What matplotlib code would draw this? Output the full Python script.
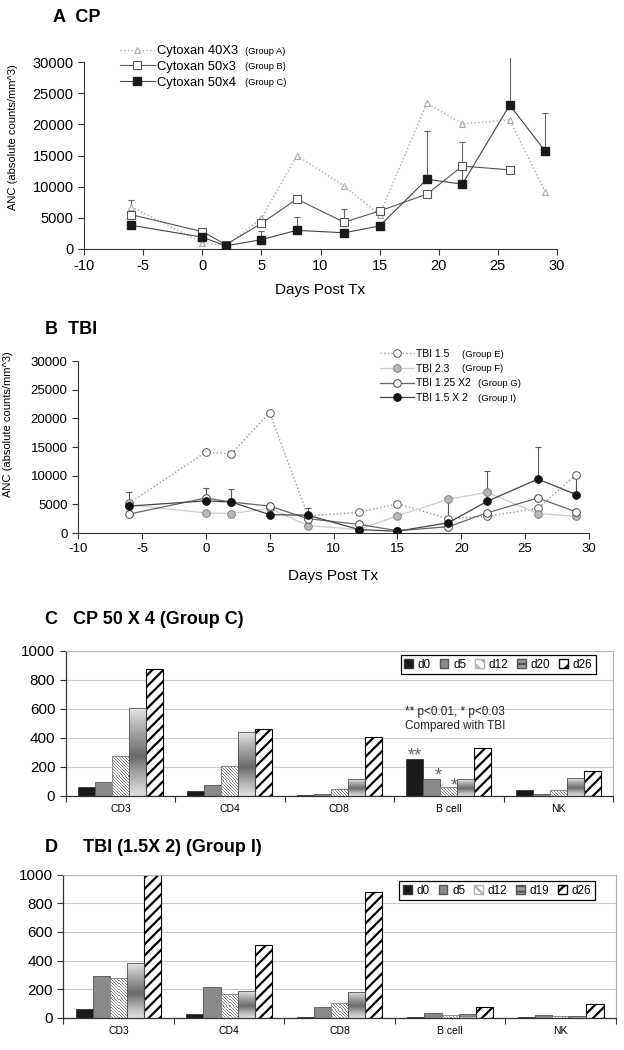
import numpy as np
import matplotlib.pyplot as plt
from matplotlib.patches import Patch
from matplotlib.colors import LinearSegmentedColormap, ListedColormap

plt.rcParams['font.family'] = ['Liberation Sans', 'DejaVu Sans']
plt.rcParams['axes.unicode_minus'] = False
plt.rcParams['hatch.linewidth'] = 1.6

# ---- panel A: ANC after cytoxan ----
days_a = [-6, 0, 2, 5, 8, 12, 15, 19, 22, 26, 29]
days_a_b = [-6, 0, 2, 5, 8, 12, 15, 19, 22, 26]
cy40x3 = [6800, 1000, 500, 4900, 15000, 10100, 5500, 23400, 20100, 20700, 9200]
cy50x3 = [5500, 2800, 700, 4100, 8000, 4300, 6100, 8800, 13300, 12700]
cy50x3_err = [2350, 0, 0, 0, 0, 2100, 0, 0, 0, 0]
cy50x4 = [3800, 1900, 500, 1500, 3000, 2600, 3700, 11200, 10400, 23100, 15700]
cy50x4_err = [0, 0, 0, 1400, 2100, 0, 0, 7700, 6800, 9000, 6100]
labels_a = ['Cytoxan 40X3', 'Cytoxan 50x3', 'Cytoxan 50x4']
groups_a = ['(Group A)', '(Group B)', '(Group C)']

# ---- panel B: ANC after TBI ----
days_b = [-6, 0, 2, 5, 8, 12, 15, 19, 22, 26, 29]
tbi15 = [5200, 14100, 13800, 21000, 3000, 3600, 5100, 2500, 2900, 4300, 10200]
tbi23 = [4900, 3500, 3400, 4300, 1300, 600, 3000, 5900, 7100, 3400, 2900]
tbi125x2 = [3300, 6100, 5400, 4700, 2500, 1500, 400, 1100, 3500, 6100, 3700]
tbi15x2 = [4700, 5600, 5400, 3200, 3100, 600, 300, 1800, 5500, 9400, 6700]
tbi15x2_err = [2500, 2200, 2200, 0, 1200, 0, 0, 4000, 5300, 5600, 3400]
labels_b = ['TBI 1.5', 'TBI 2.3', 'TBI 1.25 X2', 'TBI 1.5 X 2']
groups_b = ['(Group E)', '(Group F)', '(Group G)', '(Group I)']

# ---- panels C / D: lymphocyte subsets ----
cells = ['CD3', 'CD4', 'CD8', 'B cell', 'NK']
days_c = ['d0', 'd5', 'd12', 'd20', 'd26']
c_d0 = [60, 32, 5, 253, 41]
c_d5 = [97, 71, 9, 113, 9]
c_d12 = [271, 202, 48, 60, 39]
c_d20 = [605, 437, 113, 113, 122]
c_d26 = [871, 457, 407, 326, 170]
days_d = ['d0', 'd5', 'd12', 'd19', 'd26']
d_d0 = [63, 28, 2, 5, 5]
d_d5 = [291, 214, 75, 30, 19]
d_d12 = [275, 163, 105, 19, 9]
d_d19 = [380, 186, 182, 23, 12]
d_d26 = [1000, 510, 876, 75, 93]

W, H = 624, 1050
fig = plt.figure(figsize=(W / 100, H / 100), dpi=100)


def px_axes(left, top, right, bottom):
    return fig.add_axes([left / W, 1 - bottom / H, (right - left) / W, (bottom - top) / H])


def style_line_axes(ax, ymax_tick):
    for s in ['top', 'right']:
        ax.spines[s].set_visible(False)
    for s in ['left', 'bottom']:
        ax.spines[s].set_color('#333333')
        ax.spines[s].set_linewidth(0.8)
    ax.spines['left'].set_bounds(0, ymax_tick)
    ax.set_xlim(-10, 30)
    ax.set_xticks(range(-10, 31, 5))
    ax.set_yticks(range(0, ymax_tick + 1, 5000))
    ax.tick_params(direction='out', length=4, width=0.8, color='#333333')


def upper_err(ax, x, y, err, color, zorder=2):
    xs = [a for a, e in zip(x, err) if e > 0]
    ys = [b for b, e in zip(y, err) if e > 0]
    es = [e for e in err if e > 0]
    ax.errorbar(xs, ys, yerr=[np.zeros(len(es)), es], fmt='none', ecolor=color,
                elinewidth=0.8, capsize=2.5, capthick=0.8, zorder=zorder)


# ===== A =====
axA = px_axes(84, 249 - 187 * 30700 / 30000, 557, 249)
style_line_axes(axA, 30000)
axA.set_ylim(0, 30700)
upper_err(axA, days_a_b, cy50x3, cy50x3_err, '#666666')
upper_err(axA, days_a, cy50x4, cy50x4_err, '#666666')
axA.plot(days_a, cy40x3, ls=':', color='#aaaaaa', lw=1, marker='^', ms=5,
         mfc='white', mec='#aaaaaa', mew=0.8, label=labels_a[0], zorder=3)
axA.plot(days_a_b, cy50x3, '-', color='#555555', lw=0.8, marker='s', ms=5.3,
         mfc='white', mec='#555555', mew=0.8, label=labels_a[1], zorder=4)
axA.plot(days_a, cy50x4, '-', color='#444444', lw=0.8, marker='s', ms=5.6,
         mfc='#1a1a1a', mec='#1a1a1a', label=labels_a[2], zorder=5)
axA.tick_params(labelsize=10.5)
axA.set_xlabel('Days Post Tx', fontsize=11, labelpad=7)
axA.set_ylabel('ANC (absolute counts/mm^3)', fontsize=8)
axA.yaxis.set_label_coords(-0.1395, 0.585)
legA = axA.legend(loc='upper left', bbox_to_anchor=(120 / W, 1 - 45 / H),
                  bbox_transform=fig.transFigure, frameon=False, fontsize=9.3,
                  handlelength=2.7, handletextpad=0.2, labelspacing=0.3,
                  borderpad=0, borderaxespad=0)
fig.text(53 / W, 1 - 17 / H, 'A  CP', fontsize=13, fontweight='bold', va='center')

# ===== B =====
axB = px_axes(78, 361, 589, 533)
style_line_axes(axB, 30000)
axB.set_ylim(0, 30000)
upper_err(axB, days_b, tbi15x2, tbi15x2_err, '#555555')
axB.plot(days_b, tbi15, ls=':', color='#999999', lw=1, marker='o', ms=5.5,
         mfc='white', mec='#555555', mew=0.7, label=labels_b[0], zorder=3)
axB.plot(days_b, tbi23, '-', color='#cccccc', lw=0.9, marker='o', ms=5.5,
         mfc='#b8b8b8', mec='#808080', mew=0.7, label=labels_b[1], zorder=3)
axB.plot(days_b, tbi125x2, '-', color='#666666', lw=0.9, marker='o', ms=5.5,
         mfc='white', mec='#444444', mew=0.7, label=labels_b[2], zorder=4)
axB.plot(days_b, tbi15x2, '-', color='#444444', lw=0.9, marker='o', ms=5.5,
         mfc='#111111', mec='#111111', mew=0.7, label=labels_b[3], zorder=5)
axB.tick_params(labelsize=9.5)
axB.set_xlabel('Days Post Tx', fontsize=11, labelpad=10)
axB.set_ylabel('ANC (absolute counts/mm^3)', fontsize=8)
axB.yaxis.set_label_coords(-0.127, 0.631)
legB = axB.legend(loc='upper left', bbox_to_anchor=(380 / W, 1 - 349 / H),
                  bbox_transform=fig.transFigure, frameon=False, fontsize=7.5,
                  handlelength=3.3, handletextpad=0.2, labelspacing=0.45,
                  borderpad=0, borderaxespad=0)
fig.text(45 / W, 1 - 329 / H, 'B  TBI', fontsize=13, fontweight='bold', va='center')

# ===== C / D bars =====
grad_cmap = LinearSegmentedColormap.from_list(
    'bar_grad', [(0, '#e6e6e6'), (0.25, '#a9a9a9'), (0.55, '#6a6a6a'),
                 (0.8, '#b5b5b5'), (1, '#e2e2e2')])
stripe_cmap = ListedColormap(['white', '#8a8a8a'])
bar_width = 0.155


def stripe_texture(wpx, hpx, period=3):
    i, j = np.mgrid[0:max(hpx, 1), 0:max(wpx, 1)]
    return ((i - j) % period == 0).astype(float)


def bar_panel(ax, series, day_names):
    x = np.arange(len(cells))
    n = len(series)
    ax.set_xlim(-0.5, len(cells) - 0.5)
    ax.set_ylim(0, 1000)
    positions = []
    for i, vals in enumerate(series):
        pos = x + (i - (n - 1) / 2) * bar_width
        positions.append(pos)
        if i == 0:
            ax.bar(pos, vals, bar_width, color='#1a1a1a', edgecolor='#333333', lw=0.6, zorder=2)
        elif i == 1:
            ax.bar(pos, vals, bar_width, color='#8a8a8a', edgecolor='#555555', lw=0.6, zorder=2)
        elif i in (2, 3):
            bars = ax.bar(pos, vals, bar_width, facecolor='none',
                          edgecolor='#808080' if i == 2 else '#555555', lw=0.6, zorder=3)
            for b, p, v in zip(bars, pos, vals):
                ext = (p - bar_width / 2, p + bar_width / 2, 0, v)
                if i == 2:
                    (x0, y0), (x1, y1) = ax.transData.transform([(ext[0], 0), (ext[1], v)])
                    tex = stripe_texture(int(round(x1 - x0)), int(round(y1 - y0)))
                    im = ax.imshow(tex, extent=ext, origin='upper', cmap=stripe_cmap,
                                   aspect='auto', interpolation='nearest', zorder=2)
                else:
                    grad = np.linspace(0, 1, 256).reshape(-1, 1)
                    im = ax.imshow(grad, extent=ext, origin='upper', cmap=grad_cmap,
                                   aspect='auto', zorder=2)
                im.set_clip_path(b)
        else:
            ax.bar(pos, vals, bar_width, color='white', edgecolor='black',
                   hatch='///', lw=0.8, zorder=2)
    ax.set_xlim(-0.5, len(cells) - 0.5)
    ax.set_ylim(0, 1000)
    ax.set_yticks(range(0, 1001, 200))
    ax.set_xticks(x)
    ax.set_xticklabels(cells, fontsize=7.5)
    ax.set_xticks(np.arange(-0.5, len(cells)), minor=True)
    ax.tick_params(axis='x', which='major', length=0, pad=6)
    ax.tick_params(axis='x', which='minor', length=4, width=0.8, color='#333333')
    ax.tick_params(axis='y', length=4, width=0.8, color='#333333', labelsize=11)
    ax.grid(axis='y', color='#c8c8c8', lw=0.8, zorder=0)
    ax.set_axisbelow(True)
    for s in ['top', 'right']:
        ax.spines[s].set_color('#b0b0b0')
        ax.spines[s].set_linewidth(0.8)
    for s in ['left', 'bottom']:
        ax.spines[s].set_color('#333333')
        ax.spines[s].set_linewidth(0.9)
    handles = [Patch(facecolor='#1a1a1a', edgecolor='#333333'),
               Patch(facecolor='#8a8a8a', edgecolor='#555555'),
               Patch(facecolor='white', edgecolor='#b0b0b0', hatch='\\\\\\'),
               Patch(facecolor='#9a9a9a', edgecolor='#555555', hatch='---'),
               Patch(facecolor='white', edgecolor='black', hatch='//')]
    return positions, handles


axC = px_axes(65.7, 650.7, 613, 795.7)
posC, hC = bar_panel(axC, [c_d0, c_d5, c_d12, c_d20, c_d26], days_c)
legC = axC.legend(hC, days_c, ncol=5, loc='upper right', bbox_to_anchor=(0.969, 0.970),
                  borderaxespad=0, fancybox=False, edgecolor='black', framealpha=1,
                  fontsize=8.5, handlelength=0.75, handleheight=0.75, handletextpad=0.4,
                  columnspacing=0.75, borderpad=0.3)
legC.get_frame().set_linewidth(0.9)
ib = cells.index('B cell')
axC.text(posC[0][ib], c_d0[ib] + 22, '**', ha='center', va='center', fontsize=13, color='#666666')
axC.text(posC[1][ib] + bar_width * 0.4, c_d5[ib] + 20, '*', ha='center', va='center',
         fontsize=13, color='#666666')
axC.text(posC[2][ib] + bar_width * 0.3, c_d12[ib] + 8, '*', ha='center', va='center',
         fontsize=13, color='#666666')
axC.text(0.62, 0.53, '** p<0.01, * p<0.03\nCompared with TBI', transform=axC.transAxes,
         ha='left', va='center', fontsize=8.5, linespacing=1.25, color='#222222')
fig.text(45 / W, 1 - 620 / H, 'C   CP 50 X 4 (Group C)', fontsize=13, fontweight='bold',
         va='center')

axD = px_axes(63.3, 874.7, 616, 1017.7)
posD, hD = bar_panel(axD, [d_d0, d_d5, d_d12, d_d19, d_d26], days_d)
legD = axD.legend(hD, days_d, ncol=5, loc='upper right', bbox_to_anchor=(0.962, 0.956),
                  borderaxespad=0, fancybox=False, edgecolor='black', framealpha=1,
                  fontsize=8.5, handlelength=0.75, handleheight=0.75, handletextpad=0.4,
                  columnspacing=0.75, borderpad=0.3)
legD.get_frame().set_linewidth(0.9)
fig.text(45 / W, 1 - 848 / H, 'D     TBI (1.5X 2) (Group I)', fontsize=13,
         fontweight='bold', va='center')

# group tags next to line legends
fig.canvas.draw()
inv = fig.transFigure.inverted()
for txt, grp in zip(legA.get_texts(), groups_a):
    bb = txt.get_window_extent()
    yc = inv.transform((bb.x0, (bb.y0 + bb.y1) / 2))[1]
    fig.text(245 / W, yc, grp, fontsize=6.7, va='center')
for txt, grp, gx in zip(legB.get_texts(), groups_b, [462, 462, 478, 478]):
    bb = txt.get_window_extent()
    yc = inv.transform((bb.x0, (bb.y0 + bb.y1) / 2))[1]
    fig.text(gx / W, yc, grp, fontsize=6.8, va='center')

fig.savefig('out.png', dpi=100)
